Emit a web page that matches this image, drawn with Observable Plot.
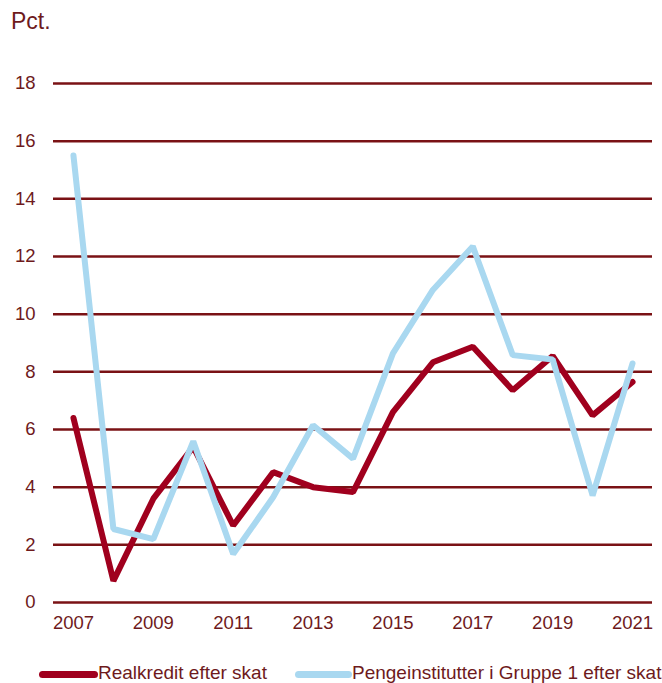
<!DOCTYPE html>
<html>
<head>
<meta charset="utf-8">
<script src="https://cdn.jsdelivr.net/npm/d3@7"></script>
<script src="https://cdn.jsdelivr.net/npm/@observablehq/plot@0.6"></script>
<style>
  html, body { margin: 0; padding: 0; background: #fff; }
  body { width: 662px; height: 683px; position: relative; overflow: hidden; font-family: "Liberation Sans", Arial, sans-serif; color: #6e1a1c; }
  #unit { position: absolute; left: 11px; top: 10px; font-size: 23px; line-height: 1; }
  #chart { position: absolute; left: 0; top: 0; }
  #legend { position: absolute; left: 39px; top: 662px; font-size: 19px; display: flex; align-items: center; white-space: nowrap; }
  .sw { display: inline-block; height: 6.5px; border-radius: 3.5px; position: relative; top: 1.5px; }
  .item { display: flex; align-items: center; }
</style>
</head>
<body>
<div id="chart"></div>
<div id="unit">Pct.</div>
<div id="legend"></div>
<script>
const years = [2007, 2008, 2009, 2010, 2011, 2012, 2013, 2014, 2015, 2016, 2017, 2018, 2019, 2020, 2021];
const realkredit = [6.4, 0.75, 3.6, 5.4, 2.67, 4.52, 4.0, 3.83, 6.6, 8.33, 8.87, 7.36, 8.55, 6.49, 7.65];
const pengeinstitutter = [15.5, 2.55, 2.2, 5.59, 1.68, 3.65, 6.15, 4.99, 8.64, 10.84, 12.35, 8.58, 8.43, 3.71, 8.29];
const seriesNames = ["Realkredit efter skat", "Pengeinstitutter i Gruppe 1 efter skat"];
const seriesColors = ["#a0001e", "#a9d8f0"];
const yTicks = [0, 2, 4, 6, 8, 10, 12, 14, 16, 18];
const xTicks = [2007, 2009, 2011, 2013, 2015, 2017, 2019, 2021];

const data = [];
years.forEach((yr, i) => {
  data.push({year: yr, value: realkredit[i], series: seriesNames[0]});
});
years.forEach((yr, i) => {
  data.push({year: yr, value: pengeinstitutter[i], series: seriesNames[1]});
});

const textColor = "#6e1a1c";
const chart = Plot.plot({
  width: 662,
  height: 683,
  marginTop: 83,
  marginBottom: 81,
  marginLeft: 53,
  marginRight: 10,
  style: {fontFamily: "'Liberation Sans', Arial, sans-serif", fontSize: "18.5px", color: textColor, background: "transparent"},
  x: {domain: [2006.5, 2021.5], ticks: xTicks, tickFormat: d => String(d), tickSize: 0, tickPadding: 13, label: null},
  y: {domain: [0, 18], ticks: yTicks, tickSize: 0, tickPadding: 18, label: null},
  color: {domain: seriesNames, range: seriesColors},
  marks: [
    Plot.ruleY(yTicks, {stroke: "#7a1215", strokeWidth: 2.5}),
    Plot.line(data, {x: "year", y: "value", z: "series", stroke: "series", strokeWidth: 6, strokeLinejoin: "miter", strokeLinecap: "round"}),
    Plot.axisX({ticks: xTicks, tickFormat: d => String(d), tickSize: 0, tickPadding: 13, fill: textColor, fontSize: 18.5}),
    Plot.axisY({ticks: yTicks, tickSize: 0, tickPadding: 18, fill: textColor, fontSize: 18.5})
  ]
});
document.getElementById("chart").appendChild(chart);

const legend = document.getElementById("legend");
const swatchWidths = [59, 57];
seriesNames.forEach((name, i) => {
  const item = document.createElement("div");
  item.className = "item";
  if (i > 0) item.style.marginLeft = "28px";
  const sw = document.createElement("span");
  sw.className = "sw";
  sw.style.background = seriesColors[i];
  sw.style.width = swatchWidths[i] + "px";
  const t = document.createElement("span");
  t.textContent = name;
  item.appendChild(sw);
  item.appendChild(t);
  legend.appendChild(item);
});
</script>
</body>
</html>
